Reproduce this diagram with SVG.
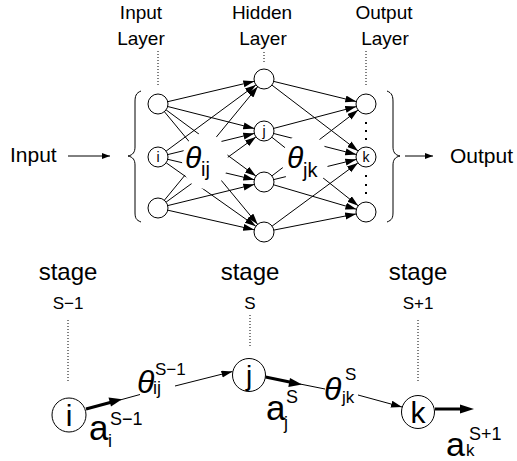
<svg xmlns="http://www.w3.org/2000/svg" width="517" height="461" viewBox="0 0 517 461">
<defs>
<style>
text{font-family:"Liberation Sans",Arial,sans-serif;fill:#000}
.node{fill:#fff;stroke:#000;stroke-width:1}
.ln{stroke:#000;stroke-width:1;fill:none}
.arr{stroke:#000;stroke-width:1;fill:none;marker-end:url(#ah)}
.thk{stroke:#000;stroke-width:3;fill:none}
.dot{stroke:#000;stroke-width:1;stroke-dasharray:1 2;fill:none}
.th{font-style:italic}
.mask{fill:#fff;stroke:none}
</style>
<marker id="ah" markerUnits="userSpaceOnUse" markerWidth="12" markerHeight="8" refX="11" refY="3.5" orient="auto"><path d="M0,0 L11,3.5 L0,7 z" fill="#000"/></marker>
<marker id="ahs" markerUnits="userSpaceOnUse" markerWidth="9" markerHeight="7" refX="8" refY="3" orient="auto"><path d="M0,0 L8,3 L0,6 z" fill="#000"/></marker>
</defs>
<rect width="517" height="461" fill="#fff"/>

<g id="connectors">
<path class="arr" d="M167.7,101.7 L254.3,81.3"/>
<path class="arr" d="M167.7,106.5 L254.3,128.5"/>
<path class="arr" d="M166.1,109.9 L255.9,176.1"/>
<path class="arr" d="M164.4,111.7 L257.6,224.3"/>
<path class="arr" d="M166.1,151.1 L255.9,84.9"/>
<path class="arr" d="M167.7,154.6 L254.3,133.4"/>
<path class="arr" d="M167.7,159.3 L254.3,179.7"/>
<path class="arr" d="M166.2,162.8 L255.8,226.2"/>
<path class="arr" d="M164.3,200.3 L257.7,86.7"/>
<path class="arr" d="M166.1,202.1 L255.9,136.9"/>
<path class="arr" d="M167.7,205.6 L254.3,184.4"/>
<path class="arr" d="M167.8,210.2 L254.2,229.8"/>
<path class="arr" d="M273.7,81.4 L356.3,101.6"/>
<path class="arr" d="M271.9,85.1 L358.1,150.9"/>
<path class="arr" d="M273.7,128.4 L356.3,106.6"/>
<path class="arr" d="M273.7,133.5 L356.3,154.5"/>
<path class="arr" d="M271.8,137.2 L358.2,205.8"/>
<path class="arr" d="M271.9,175.9 L358.1,110.1"/>
<path class="arr" d="M273.7,179.6 L356.3,159.4"/>
<path class="arr" d="M273.6,184.8 L356.4,209.2"/>
<path class="arr" d="M272.1,226.1 L357.9,162.9"/>
<path class="arr" d="M273.8,230.1 L356.2,213.9"/>
<path class="ln" d="M68,156 L110,156" marker-end="url(#ahs)"/>
<path class="ln" d="M405,156 L433,156" marker-end="url(#ahs)"/>
<path class="dot" d="M158,51 V86"/>
<path class="dot" d="M264,52 V64"/>
<path class="dot" d="M366,51 V87"/>
<path class="dot" d="M68,320 V382"/>
<path class="dot" d="M250,315 V346"/>
<path class="dot" d="M418,320 V382"/>
<path class="ln" d="M141,91 C136,93 135,96 135,102 L135,147 C135,152 133,155 128,156 C133,157 135,160 135,165 L135,212 C135,218 136,220 141,222"/>
<path class="ln" d="M387,91 C392,93 393,96 393,102 L393,147 C393,152 395,155 400,156 C395,157 393,160 393,165 L393,212 C393,218 392,220 387,222"/>
<path class="thk" d="M86,409 L112,402"/>
<path d="M122,399.3 L108.5,397.5 L111,406.5 z" fill="#000"/>
<path class="ln" d="M120,400 L140,394.5"/>
<path class="arr" d="M175,386 L232.5,371.5"/>
<path class="thk" d="M265.5,377 L292,382.5"/>
<path d="M302,384.5 L290,378 L288.3,387 z" fill="#000"/>
<path class="ln" d="M300,384 L325,389"/>
<path class="arr" d="M358,395 L402,407"/>
<path class="thk" d="M435,409 L462,409"/>
<path d="M474,409 L460,404.5 L460,413.5 z" fill="#000"/>
</g>

<g id="labels-top">
<text x="141" y="18.5" font-size="19" text-anchor="middle">Input</text>
<text x="141" y="45" font-size="19" text-anchor="middle">Layer</text>
<text x="262" y="18.5" font-size="19" text-anchor="middle">Hidden</text>
<text x="263" y="45" font-size="19" text-anchor="middle">Layer</text>
<text x="384" y="18.5" font-size="19" text-anchor="middle">Output</text>
<text x="385" y="45" font-size="19" text-anchor="middle">Layer</text>
<text x="10" y="162" font-size="21">Input</text>
<text x="450" y="163" font-size="21">Output</text>
</g>

<g id="theta-ij">
<ellipse class="mask" cx="205" cy="161" rx="23" ry="28"/>
<text class="th" x="185" y="168" font-size="30">θ</text>
<text x="201" y="176" font-size="20">ij</text>
</g>
<g id="theta-jk">
<ellipse class="mask" cx="305" cy="161" rx="23" ry="28"/>
<text class="th" x="287" y="168" font-size="30">θ</text>
<text x="303" y="177" font-size="20">jk</text>
</g>

<g id="node-in1"><circle class="node" cx="158" cy="104" r="10"/></g>
<g id="node-i"><circle class="node" cx="158" cy="157" r="10"/><text x="158" y="162" font-size="14" text-anchor="middle">i</text></g>
<g id="node-in3"><circle class="node" cx="158" cy="208" r="10"/></g>
<g id="node-h1"><circle class="node" cx="264" cy="79" r="10"/></g>
<g id="node-j"><circle class="node" cx="264" cy="131" r="10"/><text x="264" y="136" font-size="14" text-anchor="middle">j</text></g>
<g id="node-h3"><circle class="node" cx="264" cy="182" r="10"/></g>
<g id="node-h4"><circle class="node" cx="264" cy="232" r="10"/></g>
<g id="node-o1"><circle class="node" cx="366" cy="104" r="10"/></g>
<g id="node-k"><circle class="node" cx="366" cy="157" r="10"/><text x="366" y="162" font-size="14" text-anchor="middle">k</text></g>
<g id="node-o3"><circle class="node" cx="366" cy="212" r="10"/></g>
<g id="output-dots" fill="#000">
<rect x="365" y="122" width="2" height="2"/><rect x="365" y="130" width="2" height="2"/><rect x="365" y="138" width="2" height="2"/>
<rect x="365" y="175" width="2" height="2"/><rect x="365" y="184" width="2" height="2"/><rect x="365" y="192" width="2" height="2"/>
</g>

<g id="labels-bottom">
<text x="68" y="280" font-size="24" text-anchor="middle">stage</text>
<text x="250" y="280" font-size="24" text-anchor="middle">stage</text>
<text x="418" y="280" font-size="24" text-anchor="middle">stage</text>
<text x="68" y="309" font-size="17" text-anchor="middle">S−1</text>
<text x="250" y="309" font-size="17" text-anchor="middle">S</text>
<text x="418" y="309" font-size="17" text-anchor="middle">S+1</text>
</g>

<g id="stage-i"><circle class="node" cx="69" cy="415" r="17"/><text x="69" y="425.5" font-size="30" text-anchor="middle">i</text></g>
<g id="stage-j"><circle class="node" cx="249" cy="375" r="16.5"/><text x="249" y="385" font-size="28" text-anchor="middle">j</text></g>
<g id="stage-k"><circle class="node" cx="418" cy="412" r="16.5"/><text x="418" y="423" font-size="30" text-anchor="middle">k</text></g>

<g id="math-bottom">
<text class="th" x="137" y="393" font-size="32">θ</text>
<text x="155" y="375" font-size="17">S−1</text>
<text x="153" y="394" font-size="18">ij</text>
<text class="th" x="324" y="400" font-size="32">θ</text>
<text x="345" y="380" font-size="17">S</text>
<text x="342" y="403" font-size="17">jk</text>
<text x="89" y="440" font-size="35">a</text>
<text x="110" y="425" font-size="18">S−1</text>
<text x="108" y="447" font-size="18">i</text>
<text x="266" y="420" font-size="35">a</text>
<text x="286" y="403" font-size="18">S</text>
<text x="284" y="429" font-size="18">j</text>
<text x="446" y="456" font-size="34">a</text>
<text x="469" y="440" font-size="18">S+1</text>
<text x="466" y="456" font-size="17">k</text>
</g>
</svg>
